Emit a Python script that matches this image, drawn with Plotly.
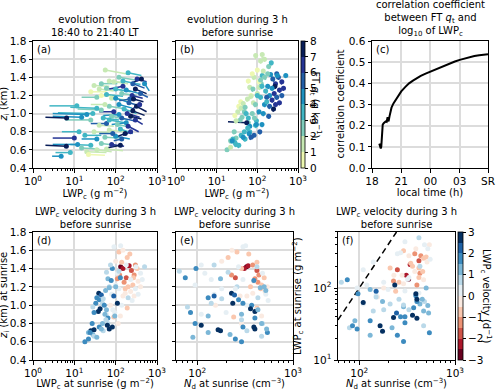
import plotly.graph_objects as go

W, H = 500, 391
FONT = "DejaVu Sans"

# ---- panel (a): trajectories 18:40 -> 21:40 LT ----
a_lwp_dot = [56, 200, 120, 30, 45, 150, 330, 420, 260, 90, 70, 500,
             40, 25, 100, 180, 300, 250, 140, 60, 35, 220, 400, 80,
             11.5, 6.5, 20, 28, 45, 70, 120, 210, 320, 380, 160, 90, 55, 260, 35,
             15, 25, 50, 80, 140, 230, 300, 180, 110, 60, 200, 40,
             130, 70, 30, 18, 170, 100, 55, 10, 230, 140, 35, 13,
             6.4, 12, 25, 45, 80, 130, 4.8, 20, 35, 8, 60, 15, 22,
             100, 150, 270, 190, 60, 45, 70, 120, 85]
a_zi_dot = [1.48, 1.45, 1.40, 1.31, 1.33, 1.36, 1.38, 1.38, 1.33, 1.35, 1.36, 1.33,
            1.27, 1.24, 1.27, 1.26, 1.27, 1.20, 1.22, 1.21, 1.18, 1.16, 1.22, 1.17,
            1.085, 0.95, 0.99, 1.00, 1.04, 1.08, 1.10, 1.12, 1.08, 1.10, 1.05, 1.02, 1.10, 1.03, 1.06,
            0.96, 0.93, 0.95, 0.97, 0.95, 0.97, 0.93, 0.90, 0.88, 0.89, 0.86, 0.87,
            0.83, 0.82, 0.80, 0.76, 0.78, 0.75, 0.74, 0.73, 0.80, 0.72, 0.72, 0.80,
            0.64, 0.66, 0.65, 0.67, 0.66, 0.65, 0.53, 0.58, 0.60, 0.57, 0.61, 0.62, 0.55,
            1.17, 1.30, 1.16, 1.00, 1.28, 1.20, 0.93, 0.99, 0.78]
a_lwp_tail = [220, 420, 300, 70, 110, 400, 560, 250, 500, 200, 170, 650,
              90, 60, 230, 380, 560, 450, 320, 150, 15, 120, 600, 190,
              2.5, 2.0, 3, 4, 12, 180, 250, 420, 560, 250, 320, 40, 25, 500, 8,
              3, 6, 120, 200, 280, 420, 450, 80, 230, 25, 360, 90,
              260, 160, 70, 45, 100, 220, 120, 3, 150, 90, 15, 5,
              2.0, 3, 8, 100, 160, 60, 2.9, 60, 80, 3.5, 150, 40, 55,
              220, 70, 470, 380, 140, 100, 170, 50, 40]
a_zi_tail = [1.43, 1.42, 1.37, 1.30, 1.33, 1.32, 1.35, 1.34, 1.28, 1.33, 1.34, 1.25,
             1.25, 1.24, 1.24, 1.22, 1.22, 1.17, 1.20, 1.19, 1.18, 1.14, 1.18, 1.15,
             1.085, 0.96, 1.00, 1.01, 1.05, 1.05, 1.06, 1.08, 1.02, 1.05, 1.00, 1.02, 1.10, 0.98, 1.07,
             0.97, 0.93, 0.93, 0.93, 0.92, 0.94, 0.88, 0.88, 0.85, 0.89, 0.80, 0.86,
             0.78, 0.80, 0.79, 0.76, 0.74, 0.72, 0.73, 0.73, 0.76, 0.70, 0.72, 0.80,
             0.65, 0.66, 0.66, 0.65, 0.64, 0.62, 0.53, 0.57, 0.58, 0.57, 0.59, 0.61, 0.54,
             1.12, 1.27, 1.13, 0.96, 1.26, 1.19, 0.90, 0.98, 0.78]
a_qt = [1.3, 3.5, 2.5, 1.0, 2.0, 3.0, 6.5, 7.5, 5.5, 1.5, 1.8, 4.0,
        1.2, 0.8, 3.0, 4.2, 7.2, 6.5, 2.2, 3.5, 2.5, 5.0, 5.8, 1.5,
        3.8, 7.0, 4.5, 3.2, 2.6, 2.0, 4.5, 5.5, 7.0, 6.8, 3.2, 6.0, 1.5, 7.8, 3.0,
        4.0, 2.8, 3.8, 2.5, 5.0, 7.0, 6.2, 4.2, 2.0, 5.5, 6.8, 1.8,
        3.5, 1.5, 1.2, 3.0, 7.0, 4.8, 2.2, 6.8, 6.0, 5.5, 4.0, 3.5,
        7.5, 4.2, 3.0, 2.0, 6.0, 7.0, 4.0, 1.0, 1.8, 3.5, 1.5, 2.5, 0.6,
        4.0, 6.5, 7.5, 6.0, 2.8, 0.8, 3.0, 4.5, 5.0]

# ---- sunrise values, panels (b) (d) (e) (f) ----
lwp_sr = [132, 212, 150, 240, 180, 125, 280, 300, 110, 160, 200, 260, 140, 330, 190, 220, 120, 270, 170, 230,
          350, 150, 100, 280, 190, 130, 90, 75, 115, 400, 91, 132, 150, 310, 400, 500, 350, 250, 200, 120,
          100, 80, 95, 140, 170, 230, 60, 50, 70, 110, 300, 85, 440, 65, 180, 83, 75, 60, 65, 78,
          70, 39, 45, 35, 40, 50, 33, 48, 53, 28, 42, 38, 30, 60, 110, 55, 65, 58, 27, 48,
          63, 83, 70, 40, 30, 25, 22, 28, 24, 18, 30, 35, 45, 95, 57, 120, 100, 22, 90, 130]
zi_sr = [1.42, 1.43, 1.40, 1.38, 1.30, 1.33, 1.33, 1.44, 1.29, 1.25, 1.20, 1.22, 1.47, 1.40, 1.52, 1.56, 1.58, 1.30, 1.18, 1.15,
         1.26, 1.10, 1.48, 1.10, 0.97, 0.88, 0.87, 1.00, 0.80, 1.20, 1.64, 1.65, 1.60, 1.42, 1.35, 1.42, 1.12, 1.05, 1.08, 1.18,
         1.22, 1.12, 0.92, 1.00, 1.13, 1.28, 0.90, 0.72, 1.20, 1.35, 1.18, 0.95, 1.28, 0.80, 1.44, 1.40, 1.44, 1.36, 1.29, 1.27,
         1.19, 1.13, 1.11, 1.08, 1.06, 1.07, 1.02, 1.02, 1.00, 0.98, 0.96, 0.93, 0.92, 0.95, 1.02, 0.90, 0.86, 0.84, 0.80, 0.80,
         0.78, 0.76, 0.74, 0.76, 0.73, 0.72, 0.70, 0.68, 0.70, 0.60, 0.66, 0.65, 0.74, 0.88, 1.16, 1.37, 1.20, 0.63, 1.10, 1.30]
nd_sr = [327, 340, 310, 420, 250, 228, 440, 380, 400, 430, 360, 470, 420, 290, 210, 345, 260, 500, 460, 510,
         390, 280, 180, 330, 420, 470, 240, 155, 290, 540, 300, 320, 230, 270, 480, 420, 520, 550, 430, 180,
         95, 150, 200, 330, 380, 140, 110, 330, 260, 120, 250, 420, 300, 480, 110, 97, 150, 210, 175, 390,
         455, 228, 245, 130, 270, 180, 300, 140, 370, 79, 360, 400, 85, 430, 235, 290, 400, 290, 95, 470,
         110, 390, 400, 300, 165, 175, 130, 220, 540, 290, 470, 90, 530, 130, 520, 65, 500, 250, 150, 75]
vel_sr = [-2.8, -2.5, -2.2, -1.8, -1.6, -1.5, -1.3, -1.2, -1.4, -1.1, -1.0, -0.9, -1.0, -0.8, -0.7, -0.9, -0.6, -0.7, -0.6, -0.5,
          -0.5, -0.5, -0.4, -0.4, -0.6, -0.4, -0.6, -0.5, -0.4, -0.3, 0.3, 0.2, -0.2, 0.3, 0.4, 0.5, 0.3, 0.4, 0.5, 0.2,
          0.3, 0.4, 0.3, 0.1, -0.2, 0.2, 0.4, 0.5, 0.5, 0.4, 0.1, 0.2, 0.4, 0.5, 0.3, 1.5, 0.9, 0.7, 1.4, 1.6,
          1.1, 2.9, 2.0, 1.6, 1.7, 0.9, 1.8, 0.8, 1.6, 0.9, 2.7, 2.8, 1.6, 1.0, 2.9, 1.4, 1.9, 0.8, 1.8, 1.2,
          2.8, 2.9, 2.6, 1.7, 2.6, 2.9, 1.2, 1.4, 1.5, 1.6, 0.9, 1.0, 1.4, 1.4, 1.3, 0.8, 1.1, 1.8, 2.1, 1.5]
qt_sr = [3.5, 4.5, 2.5, 5.5, 4.0, 2.2, 6.5, 5.2, 1.8, 3.8, 4.6, 6.2, 1.5, 5.8, 2.8, 3.2, 1.2, 7.2, 5.0, 6.8,
         6.0, 4.2, 0.8, 6.6, 5.4, 4.5, 3.6, 2.4, 5.2, 5.5, 1.2, 1.5, 1.8, 4.0, 6.2, 4.8, 6.8, 7.0, 5.8, 3.0,
         1.3, 1.6, 3.5, 4.0, 3.8, 4.4, 2.6, 3.6, 0.6, 0.9, 5.6, 2.2, 6.0, 3.4, 2.0, 1.0, 0.7, 0.5, 1.4, 2.0,
         1.1, 0.4, 1.2, 0.8, 1.7, 2.4, 1.5, 2.8, 3.2, 0.9, 2.0, 2.6, 1.8, 3.8, 4.6, 7.8, 4.2, 3.0, 2.2, 3.6,
         4.4, 5.6, 5.0, 3.2, 2.8, 3.4, 2.0, 3.8, 4.2, 2.5, 3.0, 3.6, 4.8, 4.0, 1.9, 2.6, 3.4, 1.6, 2.8, 3.0]
lwp_3h = [140, 230, 160, 255, 190, 130, 290, 310, 115, 165, 205, 265, 145, 335, 195, 225, 122, 275, 172, 232,
          355, 152, 101, 282, 193, 131, 92, 76, 116, 402, 90, 131, 151, 305, 390, 490, 345, 245, 195, 119,
          99, 79, 94, 140, 171, 228, 59, 49, 69, 109, 299, 84, 430, 64, 178, 80, 73, 59, 63, 75,
          68, 36, 43, 33, 38, 49, 31, 47, 51, 27, 39, 35, 29, 58, 102, 19, 62, 57, 26, 47,
          59, 77, 66, 38, 28, 23, 21, 27, 23, 17, 29, 34, 44, 92, 55, 118, 98, 21, 86, 126]
zi_3h = [1.39, 1.40, 1.37, 1.35, 1.27, 1.30, 1.30, 1.41, 1.26, 1.22, 1.17, 1.19, 1.44, 1.37, 1.49, 1.53, 1.55, 1.27, 1.15, 1.12,
         1.23, 1.07, 1.45, 1.07, 0.94, 0.85, 0.84, 0.97, 0.77, 1.17, 1.60, 1.61, 1.57, 1.39, 1.32, 1.39, 1.09, 1.02, 1.05, 1.15,
         1.19, 1.09, 0.89, 0.97, 1.10, 1.25, 0.87, 0.69, 1.17, 1.32, 1.15, 0.92, 1.25, 0.77, 1.41, 1.37, 1.41, 1.33, 1.26, 1.24,
         1.16, 1.10, 1.08, 1.05, 1.03, 1.04, 0.99, 0.99, 0.97, 0.95, 0.93, 0.90, 0.89, 0.92, 0.99, 0.91, 0.83, 0.81, 0.77, 0.77,
         0.75, 0.73, 0.71, 0.73, 0.70, 0.69, 0.67, 0.65, 0.67, 0.58, 0.63, 0.62, 0.71, 0.85, 1.13, 1.34, 1.17, 0.60, 1.07, 1.27]

# ---- panel (c): correlation time series ----
corr_time = [18.75, 18.8, 18.85, 18.9, 18.95, 19.0, 19.05, 19.1, 19.2, 19.3, 19.4, 19.5, 19.55, 19.6,
             19.65, 19.7, 19.8, 19.9, 20.0, 20.2, 20.4, 20.7, 21.0, 21.4, 21.8, 22.2, 22.6, 23.0,
             23.5, 24.0, 24.5, 25.0, 25.5, 26.0, 26.5, 27.0, 27.5, 28.0, 28.5, 29.0, 29.5, 29.9]
corr_val = [0.115, 0.10, 0.095, 0.092, 0.10, 0.16, 0.20, 0.205, 0.212, 0.215, 0.22, 0.218, 0.23, 0.24,
            0.225, 0.22, 0.245, 0.27, 0.285, 0.305, 0.32, 0.345, 0.362, 0.382, 0.400, 0.413, 0.425, 0.435,
            0.446, 0.456, 0.466, 0.476, 0.486, 0.495, 0.503, 0.511, 0.518, 0.524, 0.529, 0.533, 0.536, 0.538]
time_ticks = [18, 21, 24, 27, 29.9]
time_labels = ['18', '21', '00', '03', 'SR']

# reference line in (f)
ref_nd = [60, 245]
ref_lwp = [36, 600]

qt_colors = ['#edf8b1', '#c7e9b4', '#7fcdbb', '#41b6c4', '#1d91c0', '#225ea8', '#253494', '#081d58']
vel_colors = ['#67001f', '#ab162a', '#cf5347', '#ec9274', '#fac7ae', '#faeae1',
              '#e6eff4', '#bad9e9', '#7cb7d7', '#3d8bbf', '#1e61a5', '#053061']


def discrete(colors):
    n = len(colors)
    scale = []
    for i, c in enumerate(colors):
        scale += [[i / n, c], [(i + 1) / n, c]]
    return scale


def px_x(x):
    return x / W


def px_y(y):
    return (H - y) / H


def tails(x0, y0, x1, y1, q, xa, ya):
    out = []
    for b, col in enumerate(qt_colors):
        xs, ys = [], []
        for i in range(len(q)):
            if min(int(q[i]), 7) == b:
                xs += [x0[i], x1[i], None]
                ys += [y0[i], y1[i], None]
        out.append(go.Scatter(x=xs, y=ys, mode='lines', line=dict(color=col, width=1.5),
                              xaxis=xa, yaxis=ya, showlegend=False, hoverinfo='skip'))
    return out


fig = go.Figure()

# (a)
for t in tails(a_lwp_tail, a_zi_tail, a_lwp_dot, a_zi_dot, a_qt, 'x', 'y'):
    fig.add_trace(t)
fig.add_trace(go.Scatter(x=a_lwp_dot, y=a_zi_dot, mode='markers', xaxis='x', yaxis='y',
                         marker=dict(size=5, color=a_qt, colorscale=discrete(qt_colors), cmin=0, cmax=8),
                         showlegend=False))

# (b)
for t in tails(lwp_3h, zi_3h, lwp_sr, zi_sr, qt_sr, 'x2', 'y2'):
    fig.add_trace(t)
fig.add_trace(go.Scatter(
    x=lwp_sr, y=zi_sr, mode='markers', xaxis='x2', yaxis='y2', showlegend=False,
    marker=dict(size=5, color=qt_sr, colorscale=discrete(qt_colors), cmin=0, cmax=8, showscale=True,
                colorbar=dict(x=px_x(301), xanchor='left', xpad=0, ypad=0, y=px_y(104.5), yanchor='middle',
                              len=127 / H, lenmode='fraction', thickness=4, outlinewidth=0.8,
                              outlinecolor='black', tickvals=list(range(9)), ticks='outside', ticklen=3,
                              tickcolor='black', tickfont=dict(size=10.5, color='black', family=FONT)))))

# (c)
fig.add_trace(go.Scatter(x=corr_time, y=corr_val, mode='lines', xaxis='x3', yaxis='y3',
                         line=dict(color='black', width=2), showlegend=False))

# (d) (e) (f)
vel_marker = dict(size=5, color=vel_sr, colorscale=discrete(vel_colors), cmin=-3, cmax=3)
fig.add_trace(go.Scatter(x=lwp_sr, y=zi_sr, mode='markers', xaxis='x4', yaxis='y4',
                         marker=vel_marker, showlegend=False))
fig.add_trace(go.Scatter(x=nd_sr, y=zi_sr, mode='markers', xaxis='x5', yaxis='y5',
                         marker=vel_marker, showlegend=False))
fig.add_trace(go.Scatter(x=ref_nd, y=ref_lwp, mode='lines', xaxis='x6', yaxis='y6',
                         line=dict(color='black', width=1.5, dash='6px,4px'), showlegend=False))
fig.add_trace(go.Scatter(
    x=nd_sr, y=lwp_sr, mode='markers', xaxis='x6', yaxis='y6', showlegend=False,
    marker=dict(vel_marker, showscale=True,
                colorbar=dict(x=px_x(458), xanchor='left', xpad=0, ypad=0, y=px_y(296), yanchor='middle',
                              len=128 / H, lenmode='fraction', thickness=5, outlinewidth=0.8,
                              outlinecolor='black', tickvals=[-3, -2, -1, 0, 1, 2, 3],
                              ticktext=['−3', '−2', '−1', '0', '1', '2', '3'], ticks='outside', ticklen=3,
                              tickcolor='black', tickfont=dict(size=10.5, color='black', family=FONT)))))

tickfont = dict(size=10.5, color='black', family=FONT)
titlefont = dict(size=10, color='black', family=FONT)
base = dict(showline=True, mirror=True, linecolor='black', linewidth=1, ticks='outside', ticklen=3.5,
            tickcolor='black', tickfont=tickfont, showgrid=True, gridcolor='#dcdcdc', gridwidth=1.5,
            zeroline=False, automargin=False)

dec = [1, 10, 100, 1000]
dec_text = ['10<sup>0</sup>', '10<sup>1</sup>', '10<sup>2</sup>', '10<sup>3</sup>']
minor_lwp = [m * d for d in [1, 10, 100] for m in range(2, 10)]
minor_nd = [60, 70, 80, 90] + [m * 100 for m in range(2, 10)]
minor_lwp_f = [m * 10 for m in range(2, 10)] + [m * 100 for m in range(2, 7)]
minor_cfg = dict(ticks='outside', ticklen=2, tickcolor='black', tickmode='array', showgrid=False)


def lwp_axis(dom, anchor, title):
    return dict(base, type='log', range=[0, 3], domain=dom, anchor=anchor, tickvals=dec, ticktext=dec_text,
                minor=dict(minor_cfg, tickvals=minor_lwp),
                title=dict(text=title, font=titlefont, standoff=2))


def nd_axis(dom, anchor):
    return dict(base, type='log', range=[1.778, 3], domain=dom, anchor=anchor, tickvals=[100, 1000],
                ticktext=dec_text[2:], minor=dict(minor_cfg, tickvals=minor_nd),
                title=dict(text='<i>N</i><sub>d</sub> at sunrise (cm<sup>−3</sup>)', font=titlefont, standoff=2))


def zi_axis(dom, anchor, labels=True):
    return dict(base, range=[0.4, 1.8], dtick=0.2, tick0=0.4, tickformat='.1f', domain=dom, anchor=anchor,
                showticklabels=labels)


top = [px_y(168), px_y(41)]
bot = [px_y(360), px_y(232)]
xa = [px_x(33), px_x(157)]
xb = [px_x(176), px_x(298)]
xc = [px_x(372), px_x(488)]
xd = [px_x(33), px_x(157)]
xe = [px_x(176), px_x(293)]
xf = [px_x(338), px_x(455)]

fig.update_layout(
    template='none', width=W, height=H, margin=dict(l=0, r=0, t=0, b=0),
    paper_bgcolor='white', plot_bgcolor='white', font=dict(family=FONT, color='black'),
    xaxis=lwp_axis(xa, 'y', 'LWP<sub>c</sub> (g m<sup>−2</sup>)'),
    yaxis=zi_axis(top, 'x'),
    xaxis2=lwp_axis(xb, 'y2', 'LWP<sub>c</sub> (g m<sup>−2</sup>)'),
    yaxis2=zi_axis(top, 'x2', labels=False),
    xaxis3=dict(base, range=[18, 29.9], domain=xc, anchor='y3', tickvals=time_ticks, ticktext=time_labels,
                title=dict(text='local time (h)', font=titlefont, standoff=2)),
    yaxis3=dict(base, range=[0, 0.6], dtick=0.1, tickformat='.1f', domain=top, anchor='x3'),
    xaxis4=lwp_axis(xd, 'y4', 'LWP<sub>c</sub> at sunrise (g m<sup>−2</sup>)'),
    yaxis4=zi_axis(bot, 'x4'),
    xaxis5=nd_axis(xe, 'y5'),
    yaxis5=zi_axis(bot, 'x5', labels=False),
    xaxis6=nd_axis(xf, 'y6'),
    yaxis6=dict(base, type='log', range=[1, 2.778], domain=bot, anchor='x6', tickvals=[10, 100],
                ticktext=['10<sup>1</sup>', '10<sup>2</sup>'], minor=dict(minor_cfg, tickvals=minor_lwp_f)),
)

titles = [
    (xa, 41, 'evolution from<br>18:40 to 21:40 LT'),
    (xb, 41, 'evolution during 3 h<br>before sunrise'),
    (xc, 41, 'correlation coefficient<br>between FT <i>q</i><sub>t</sub> and<br>log<sub>10</sub> of LWP<sub>c</sub>'),
    (xd, 232, 'LWP<sub>c</sub> velocity during 3 h<br>before sunrise'),
    (xe, 232, 'LWP<sub>c</sub> velocity during 3 h<br>before sunrise'),
    (xf, 232, 'LWP<sub>c</sub> velocity during 3 h<br>before sunrise'),
]
for dom, ytop, txt in titles:
    fig.add_annotation(x=(dom[0] + dom[1]) / 2, y=px_y(ytop - 0.5), xref='paper', yref='paper', text=txt,
                       showarrow=False, xanchor='center', yanchor='bottom', font=titlefont)

labels = [(xa, 41, '(a)'), (xb, 41, '(b)'), (xc, 41, '(c)'), (xd, 232, '(d)'), (xe, 232, '(e)'), (xf, 232, '(f)')]
for dom, ytop, txt in labels:
    fig.add_annotation(x=dom[0] + 2 / W, y=px_y(ytop + 1), xref='paper', yref='paper', text=txt,
                       showarrow=False, xanchor='left', yanchor='top', font=titlefont)

# rotated axis / colorbar titles; xshift makes up for the rotated text drifting right
side_titles = [
    (10, 104.5, -90, -6, '<i>z</i><sub>i</sub> (km)'),
    (348, 104.5, -90, -8, 'correlation coefficient'),
    (10, 296, -90, -6, '<i>z</i><sub>i</sub> (km) at sunrise'),
    (306, 296, -90, -8, 'LWP<sub>c</sub> at sunrise (g m<sup>−2</sup>)'),
    (323, 104.5, 90, -7, 'FT <i>q</i><sub>t</sub> (g kg<sup>−1</sup>)'),
    (490, 296, 90, -4, 'LWP<sub>c</sub> velocity (d<sup>−1</sup>)'),
]
for x, y, ang, shift, txt in side_titles:
    fig.add_annotation(x=px_x(x), y=px_y(y), xref='paper', yref='paper', textangle=ang, text=txt,
                       xshift=shift, showarrow=False, xanchor='center', yanchor='middle', font=titlefont)

# the page's default body margin would shift the fixed-size figure
fig.write_html("out.html", config={'displayModeBar': False},
               post_script="document.body.style.margin='0px';")
